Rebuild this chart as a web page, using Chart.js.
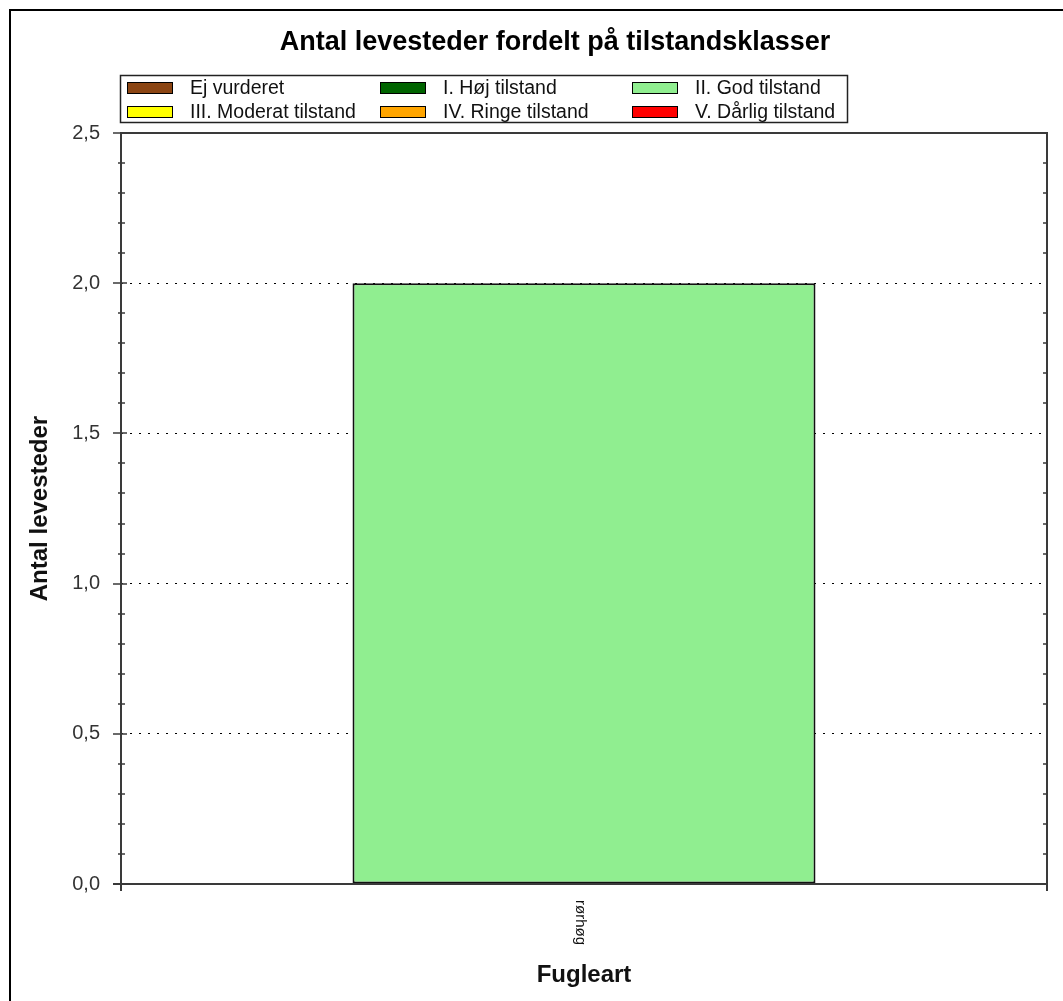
<!DOCTYPE html>
<html>
<head>
<meta charset="utf-8">
<script src="https://cdn.jsdelivr.net/npm/chart.js@4"></script>
<style>
  html, body { margin: 0; padding: 0; background: #fff; }
  canvas { display: block; }
</style>
</head>
<body>
<canvas id="chart" width="1063" height="1001"></canvas>
<script>
// Data
const TITLE = 'Antal levesteder fordelt på tilstandsklasser';
const Y_TITLE = 'Antal levesteder';
const X_TITLE = 'Fugleart';
const CATEGORIES = ['rørhøg'];
const CLASSES = ['Ej vurderet', 'I. Høj tilstand', 'II. God tilstand',
                 'III. Moderat tilstand', 'IV. Ringe tilstand', 'V. Dårlig tilstand'];
const CLASS_COLORS = ['#8b4513', '#006400', '#90ee90', '#ffff00', '#ffa500', '#ff0000'];
const COUNTS = [
  [0], // Ej vurderet
  [0], // I. Høj
  [2], // II. God
  [0], // III. Moderat
  [0], // IV. Ringe
  [0]  // V. Dårlig
];
const Y_MIN = 0, Y_MAX = 2.5, Y_STEP = 0.5, Y_MINOR = 0.1;

const FONT = '"Liberation Sans", Arial, sans-serif';
const AXIS_COLOR = '#3a3a3a';

// decorations: outer frame, title, legend, axis frame, minor ticks, titles
const deco = {
  id: 'deco',
  beforeDraw(chart) {
    const ctx = chart.ctx;
    ctx.save();
    ctx.fillStyle = '#fff';
    ctx.fillRect(0, 0, chart.width, chart.height);
    ctx.strokeStyle = '#000';
    ctx.lineWidth = 2;
    ctx.beginPath();
    ctx.moveTo(10, chart.height);
    ctx.lineTo(10, 10);
    ctx.lineTo(chart.width, 10);
    ctx.stroke();
    ctx.restore();
  },
  afterDraw(chart) {
    const ctx = chart.ctx;
    const a = chart.chartArea;
    const y = chart.scales.y;
    const x = chart.scales.x;
    ctx.save();

    // title
    ctx.fillStyle = '#000';
    ctx.font = 'bold 27px ' + FONT;
    ctx.textAlign = 'center';
    ctx.textBaseline = 'middle';
    ctx.fillText(TITLE, 555, 43);

    // legend box
    ctx.strokeStyle = '#222';
    ctx.lineWidth = 1.5;
    ctx.strokeRect(120.5, 75.5, 727, 47);
    ctx.lineWidth = 1;
    ctx.font = '19.5px ' + FONT;
    ctx.textAlign = 'left';
    const colX = [127, 380, 632];
    const rowY = [88, 112];
    chart.data.datasets.forEach((ds, i) => {
      const cx = colX[i % 3], cy = rowY[Math.floor(i / 3)];
      ctx.fillStyle = ds.backgroundColor;
      ctx.fillRect(cx, cy - 6, 46, 12);
      ctx.strokeStyle = '#000';
      ctx.strokeRect(cx + 0.5, cy - 5.5, 45, 11);
      ctx.fillStyle = '#111';
      ctx.fillText(ds.label, cx + 63, cy + 1);
    });

    // plot frame
    ctx.strokeStyle = AXIS_COLOR;
    ctx.lineWidth = 2;
    ctx.beginPath();
    ctx.moveTo(a.left, a.bottom + 7);
    ctx.lineTo(a.left, a.top);
    ctx.lineTo(a.right, a.top);
    ctx.lineTo(a.right, a.bottom + 7);
    ctx.moveTo(a.left - 8, a.bottom);
    ctx.lineTo(a.right, a.bottom);
    ctx.stroke();

    // ticks
    ctx.lineWidth = 1.5;
    ctx.beginPath();
    const n = Math.round((Y_MAX - Y_MIN) / Y_MINOR);
    for (let k = 0; k <= n; k++) {
      const v = Y_MIN + k * Y_MINOR;
      const py = Math.round(y.getPixelForValue(v));
      const major = k % Math.round(Y_STEP / Y_MINOR) === 0;
      if (major) {
        ctx.moveTo(a.left - 8, py); ctx.lineTo(a.left + 6, py);
      } else {
        ctx.moveTo(a.left - 3, py); ctx.lineTo(a.left + 4, py);
        ctx.moveTo(a.right - 4, py); ctx.lineTo(a.right, py);
      }
    }
    ctx.stroke();

    // x category labels, rotated top-to-bottom
    ctx.fillStyle = '#111';
    ctx.font = '15px ' + FONT;
    CATEGORIES.forEach((c, i) => {
      const px = x.getPixelForTick(i);
      ctx.save();
      ctx.translate(px - 4, a.bottom + 16);
      ctx.rotate(Math.PI / 2);
      ctx.textAlign = 'left';
      ctx.textBaseline = 'middle';
      ctx.fillText(c, 0, 0);
      ctx.restore();
    });

    // axis titles
    ctx.fillStyle = '#111';
    ctx.font = 'bold 24px ' + FONT;
    ctx.textAlign = 'center';
    ctx.textBaseline = 'middle';
    ctx.fillText(X_TITLE, (a.left + a.right) / 2, 975);
    ctx.save();
    ctx.translate(40, (a.top + a.bottom) / 2);
    ctx.rotate(-Math.PI / 2);
    ctx.fillText(Y_TITLE, 0, 0);
    ctx.restore();

    ctx.restore();
  }
};

new Chart(document.getElementById('chart'), {
  type: 'bar',
  data: {
    labels: CATEGORIES,
    datasets: CLASSES.map((name, i) => ({
      label: name,
      data: COUNTS[i],
      backgroundColor: CLASS_COLORS[i],
      borderColor: '#111',
      borderWidth: 2,
      borderSkipped: false,
      barPercentage: 0.5,
      categoryPercentage: 1
    }))
  },
  options: {
    responsive: false,
    devicePixelRatio: 1,
    animation: false,
    layout: { padding: { top: 133, right: 16, left: 0, bottom: 0 } },
    plugins: {
      legend: { display: false },
      title: { display: false },
      tooltip: { enabled: false }
    },
    scales: {
      x: {
        stacked: true,
        ticks: { display: false },
        grid: { display: false, drawTicks: false },
        border: { display: false },
        afterFit: s => { s.height = 117; }
      },
      y: {
        stacked: true,
        min: Y_MIN,
        max: Y_MAX,
        ticks: {
          stepSize: Y_STEP,
          padding: 21,
          color: '#333',
          font: { family: FONT, size: 20 },
          callback: v => v.toFixed(1).replace('.', ',')
        },
        grid: {
          drawTicks: false,
          lineWidth: 1,
          color: c => (c.tick && c.tick.value > Y_MIN && c.tick.value < Y_MAX) ? '#000' : 'rgba(0,0,0,0)'
        },
        border: { display: false, dash: [2, 7] },
        afterFit: s => { s.width = 121; }
      }
    }
  },
  plugins: [deco]
});
</script>
</body>
</html>
